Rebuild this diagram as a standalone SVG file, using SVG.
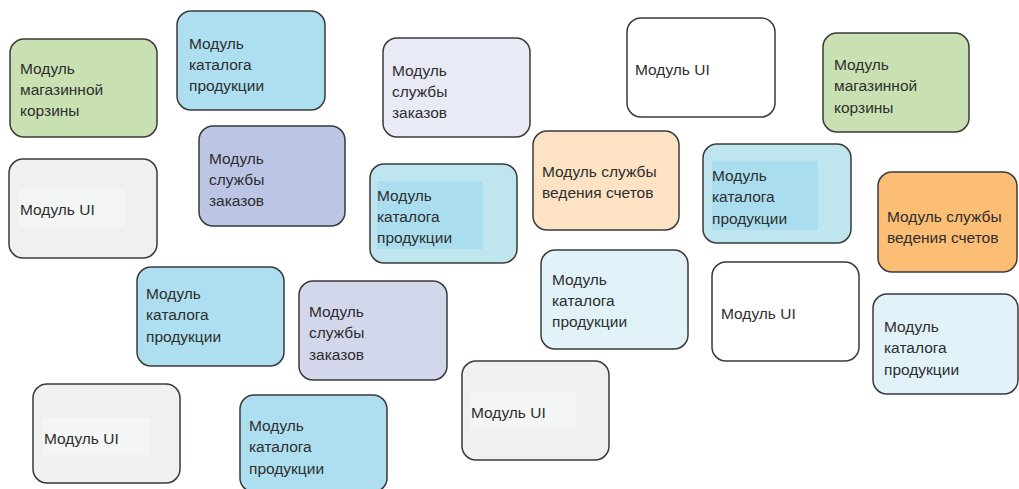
<svg xmlns="http://www.w3.org/2000/svg" width="1019" height="489" viewBox="0 0 1019 489">
  <style>
    .box { stroke: #3a3a3a; stroke-width: 1.5; }
    .lbl { font-family: "Liberation Sans", Arial, sans-serif; font-size: 15.5px; fill: #2e2e2e; }
    .green { fill: #c9e1b2; }
    .cyan { fill: #addff0; }
    .cyan2 { fill: #bfe6ef; }
    .cyan2-in { fill: #aadeef; }
    .gray { fill: #eff0f0; }
    .gray-in { fill: #f4f5f5; }
    .purple { fill: #bcc5e4; }
    .lav { fill: #e8eaf5; }
    .lav2 { fill: #d3d7ec; }
    .white { fill: #ffffff; }
    .peach { fill: #fde3c4; }
    .orange { fill: #fcbd74; }
    .pale { fill: #e1f2f9; }
  </style>

  <!-- Cart module (left) -->
  <g id="cart-left">
    <rect class="box green" x="10" y="39" width="147" height="98" rx="14"/>
    <text class="lbl" x="20" y="74">Модуль</text>
    <text class="lbl" x="20" y="95">магазинной</text>
    <text class="lbl" x="20" y="116">корзины</text>
  </g>

  <!-- Catalog module (top) -->
  <g id="catalog-top">
    <rect class="box cyan" x="177" y="11" width="148" height="99" rx="14"/>
    <text class="lbl" x="189" y="49">Модуль</text>
    <text class="lbl" x="189" y="70">каталога</text>
    <text class="lbl" x="189" y="91">продукции</text>
  </g>

  <!-- UI module (left) -->
  <g id="ui-left">
    <rect class="box gray" x="9" y="159" width="148" height="99" rx="14"/>
    <rect class="gray-in" x="19" y="189" width="106" height="38"/>
    <text class="lbl" x="20" y="215">Модуль UI</text>
  </g>

  <!-- Orders module (purple) -->
  <g id="orders-purple">
    <rect class="box purple" x="199" y="126" width="146" height="100" rx="14"/>
    <text class="lbl" x="209" y="164">Модуль</text>
    <text class="lbl" x="209" y="185">службы</text>
    <text class="lbl" x="209" y="206">заказов</text>
  </g>

  <!-- Orders module (top) -->
  <g id="orders-top">
    <rect class="box lav" x="383" y="38" width="147" height="99" rx="14"/>
    <text class="lbl" x="392" y="76">Модуль</text>
    <text class="lbl" x="392" y="97">службы</text>
    <text class="lbl" x="392" y="118">заказов</text>
  </g>

  <!-- UI module (top) -->
  <g id="ui-top">
    <rect class="box white" x="627" y="18" width="148" height="99" rx="14"/>
    <text class="lbl" x="635" y="75">Модуль UI</text>
  </g>

  <!-- Billing module (peach) -->
  <g id="billing-peach">
    <rect class="box peach" x="533" y="131" width="146" height="99" rx="14"/>
    <text class="lbl" x="542" y="177">Модуль службы</text>
    <text class="lbl" x="542" y="198">ведения счетов</text>
  </g>

  <!-- Catalog module (center) -->
  <g id="catalog-center">
    <rect class="box cyan2" x="370" y="164" width="147" height="99" rx="14"/>
    <rect class="cyan2-in" x="377" y="181" width="106" height="68"/>
    <text class="lbl" x="377" y="201">Модуль</text>
    <text class="lbl" x="377" y="222">каталога</text>
    <text class="lbl" x="377" y="243">продукции</text>
  </g>

  <!-- Cart module (right) -->
  <g id="cart-right">
    <rect class="box green" x="823" y="33" width="146" height="99" rx="14"/>
    <text class="lbl" x="834" y="70">Модуль</text>
    <text class="lbl" x="834" y="91">магазинной</text>
    <text class="lbl" x="834" y="113">корзины</text>
  </g>

  <!-- Catalog module (right) -->
  <g id="catalog-right">
    <rect class="box cyan2" x="703" y="144" width="148" height="99" rx="14"/>
    <rect class="cyan2-in" x="712" y="161" width="106" height="69"/>
    <text class="lbl" x="712" y="181">Модуль</text>
    <text class="lbl" x="712" y="202">каталога</text>
    <text class="lbl" x="712" y="224">продукции</text>
  </g>

  <!-- Billing module (orange) -->
  <g id="billing-orange">
    <rect class="box orange" x="878" y="172" width="139" height="100" rx="14"/>
    <text class="lbl" x="887" y="222">Модуль службы</text>
    <text class="lbl" x="887" y="243">ведения счетов</text>
  </g>

  <!-- Catalog module (far right) -->
  <g id="catalog-far-right">
    <rect class="box pale" x="873" y="294" width="145" height="100" rx="14"/>
    <text class="lbl" x="884" y="332">Модуль</text>
    <text class="lbl" x="884" y="353">каталога</text>
    <text class="lbl" x="884" y="375">продукции</text>
  </g>

  <!-- UI module (right) -->
  <g id="ui-right">
    <rect class="box white" x="712" y="262" width="147" height="99" rx="14"/>
    <text class="lbl" x="721" y="319">Модуль UI</text>
  </g>

  <!-- Catalog module (middle) -->
  <g id="catalog-middle">
    <rect class="box pale" x="541" y="250" width="147" height="99" rx="14"/>
    <text class="lbl" x="552" y="285">Модуль</text>
    <text class="lbl" x="552" y="306">каталога</text>
    <text class="lbl" x="552" y="327">продукции</text>
  </g>

  <!-- UI module (bottom center) -->
  <g id="ui-bottom-center">
    <rect class="box gray" x="462" y="361" width="147" height="99" rx="14"/>
    <rect class="gray-in" x="470" y="392" width="106" height="36"/>
    <text class="lbl" x="471" y="418">Модуль UI</text>
  </g>

  <!-- Orders module (bottom) -->
  <g id="orders-bottom">
    <rect class="box lav2" x="299" y="281" width="148" height="99" rx="14"/>
    <text class="lbl" x="309" y="317">Модуль</text>
    <text class="lbl" x="309" y="338">службы</text>
    <text class="lbl" x="309" y="360">заказов</text>
  </g>

  <!-- Catalog module (bottom) -->
  <g id="catalog-bottom">
    <rect class="box cyan" x="240" y="395" width="147" height="97" rx="14"/>
    <text class="lbl" x="249" y="431">Модуль</text>
    <text class="lbl" x="249" y="452">каталога</text>
    <text class="lbl" x="249" y="474">продукции</text>
  </g>

  <!-- Catalog module (lower left) -->
  <g id="catalog-lower-left">
    <rect class="box cyan" x="137" y="267" width="147" height="99" rx="14"/>
    <text class="lbl" x="146" y="299">Модуль</text>
    <text class="lbl" x="146" y="320">каталога</text>
    <text class="lbl" x="146" y="342">продукции</text>
  </g>

  <!-- UI module (bottom left) -->
  <g id="ui-bottom-left">
    <rect class="box gray" x="33" y="384" width="147" height="99" rx="14"/>
    <rect class="gray-in" x="43" y="418" width="107" height="37"/>
    <text class="lbl" x="44" y="444">Модуль UI</text>
  </g>

  <!-- no connectors in this layout -->
  <g id="connectors"/>
</svg>
